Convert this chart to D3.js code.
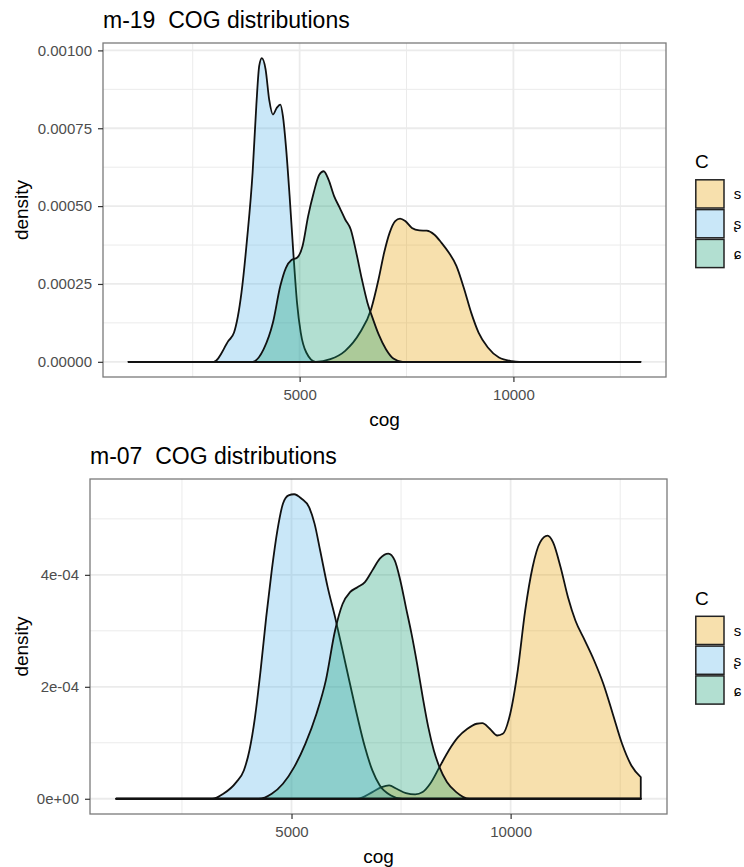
<!DOCTYPE html>
<html>
<head>
<meta charset="utf-8">
<script src="https://cdn.jsdelivr.net/npm/d3@7"></script>
<style>
  body { margin: 0; background: #fff; }
  svg { display: block; font-family: "Liberation Sans", Arial, Helvetica, sans-serif; }
</style>
</head>
<body>
<svg id="chart" width="744" height="867"></svg>
<script>
// Sibilant categories (legend order) and their fill colours
const categories = ["s", "ʂ", "ɕ"];
const fillColors = ["#E69F00", "#56B4E9", "#109a70"];

// Shared cog axis
const cogRange = [1000, 12970];
const cogMajor = [5000, 10000];
const cogMinor = [2500, 7500, 12500];

// m-19: density curves as [cog, density] pairs
const m19_s = [
  [1000, 0], [5373, 0], [5719, 0.0000085], [6066, 0.0000353], [6412, 0.000094],
  [6672, 0.000169], [6846, 0.000265], [6976, 0.00035], [7106, 0.000415], [7236, 0.000452],
  [7348, 0.00046], [7470, 0.000452], [7626, 0.00043], [7799, 0.000422], [7972, 0.000421],
  [8146, 0.000409], [8319, 0.000382], [8492, 0.00035], [8666, 0.000308], [8839, 0.000238],
  [9012, 0.000158], [9185, 0.000094], [9402, 0.000046], [9662, 0.0000139], [9965, 0.000002],
  [10139, 0], [12970, 0]
];
const m19_sh = [
  [1000, 0], [2990, 0], [3336, 0.0000673], [3466, 0.000094], [3640, 0.000222],
  [3770, 0.000393], [3900, 0.000607], [3986, 0.00082], [4055, 0.00095], [4116, 0.000975],
  [4203, 0.00094], [4290, 0.00084], [4376, 0.000794], [4463, 0.000815], [4549, 0.000826],
  [4610, 0.000788], [4680, 0.000692], [4766, 0.000532], [4853, 0.00035], [4939, 0.00019],
  [5026, 0.000094], [5156, 0.00003], [5373, 0], [12970, 0]
];
const m19_c = [
  [1000, 0], [3900, 0], [4159, 0.0000406], [4376, 0.000126], [4549, 0.000244],
  [4680, 0.000302], [4809, 0.000327], [4939, 0.000334], [5069, 0.000372], [5199, 0.000468],
  [5329, 0.000543], [5459, 0.000601], [5563, 0.000612], [5676, 0.000585], [5806, 0.000532],
  [5936, 0.000495], [6066, 0.000457], [6196, 0.000425], [6326, 0.00035], [6456, 0.000265],
  [6586, 0.00019], [6716, 0.000137], [6846, 0.0000887], [7019, 0.0000406], [7192, 0.0000107],
  [7409, 0], [12970, 0]
];

// m-07: density curves as [cog, density] pairs
const m07_s = [
  [1000, 0], [6505, 0], [6845, 0.0000119], [7058, 0.0000208], [7228, 0.0000238],
  [7398, 0.0000179], [7611, 0.0000101], [7823, 0.0000077], [7993, 0.0000119], [8163, 0.0000268],
  [8376, 0.0000565], [8588, 0.0000863], [8801, 0.00011], [9014, 0.000125], [9226, 0.000134],
  [9354, 0.000135], [9524, 0.000125], [9694, 0.000113], [9821, 0.000116], [9991, 0.000152],
  [10162, 0.000229], [10332, 0.000336], [10502, 0.000414], [10672, 0.000458], [10842, 0.00047],
  [10969, 0.000458], [11139, 0.000414], [11309, 0.00036], [11480, 0.000318], [11692, 0.000283],
  [11905, 0.000247], [12117, 0.000205], [12330, 0.000152], [12543, 0.0000982], [12755, 0.0000595],
  [12970, 0.0000387]
];
const m07_sh = [
  [1000, 0], [3189, 0], [3444, 0.0000089], [3741, 0.0000298], [3912, 0.0000506],
  [4039, 0.0000863], [4167, 0.000146], [4294, 0.000229], [4422, 0.000324], [4549, 0.000408],
  [4677, 0.000479], [4804, 0.000527], [4932, 0.000542], [5060, 0.000544], [5230, 0.000536],
  [5400, 0.000521], [5527, 0.000491], [5655, 0.000443], [5825, 0.000378], [5995, 0.000324],
  [6165, 0.000265], [6335, 0.000205], [6505, 0.000146], [6675, 0.0000923], [6845, 0.0000506],
  [7015, 0.0000238], [7270, 0.000006], [7526, 0], [12970, 0]
];
const m07_c = [
  [1000, 0], [4252, 0], [4549, 0.0000089], [4804, 0.0000268], [5060, 0.0000565],
  [5315, 0.0000982], [5570, 0.000152], [5782, 0.000211], [5995, 0.000301], [6165, 0.000348],
  [6335, 0.000369], [6505, 0.000378], [6675, 0.000387], [6845, 0.000408], [7015, 0.000429],
  [7211, 0.000438], [7355, 0.000426], [7483, 0.00039], [7611, 0.000342], [7738, 0.000295],
  [7866, 0.000241], [7993, 0.000182], [8121, 0.000128], [8248, 0.0000863], [8376, 0.0000565],
  [8546, 0.0000298], [8759, 0.0000119], [9056, 0], [12970, 0]
];

// Density axis breaks and labels per panel
const m19_yMajor = [0, 0.00025, 0.0005, 0.00075, 0.001];
const m19_yMinor = [0.000125, 0.000375, 0.000625, 0.000875];
const m19_yLabels = ["0.00000", "0.00025", "0.00050", "0.00075", "0.00100"];
const m07_yMajor = [0, 0.0002, 0.0004];
const m07_yMinor = [0.0001, 0.0003, 0.0005];
const m07_yLabels = ["0e+00", "2e-04", "4e-04"];

const svg = d3.select("#chart");

function panel(opts) {
  const { title, series, yMajor, yMinor, yLabels, box } = opts;
  const g = svg.append("g");

  // scales with 5% expansion on both ends
  const xPad = (cogRange[1] - cogRange[0]) * 0.05;
  const x = d3.scaleLinear()
    .domain([cogRange[0] - xPad, cogRange[1] + xPad])
    .range([box.left, box.right]);
  const yMax = d3.max(series, s => d3.max(s, d => d[1]));
  const yPad = yMax * 0.05;
  const y = d3.scaleLinear()
    .domain([-yPad, yMax + yPad])
    .range([box.bottom, box.top]);

  // background
  g.append("rect")
    .attr("x", box.left).attr("y", box.top)
    .attr("width", box.right - box.left).attr("height", box.bottom - box.top)
    .attr("fill", "#fff");

  // grid: minor then major
  const grid = g.append("g").attr("stroke", "#ebebeb").attr("fill", "none");
  grid.selectAll(".vxmin").data(cogMinor).join("line")
    .attr("x1", d => x(d)).attr("x2", d => x(d))
    .attr("y1", box.top).attr("y2", box.bottom).attr("stroke-width", 1);
  grid.selectAll(".hymin").data(yMinor).join("line")
    .attr("x1", box.left).attr("x2", box.right)
    .attr("y1", d => y(d)).attr("y2", d => y(d)).attr("stroke-width", 1);
  grid.selectAll(".vxmaj").data(cogMajor).join("line")
    .attr("x1", d => x(d)).attr("x2", d => x(d))
    .attr("y1", box.top).attr("y2", box.bottom).attr("stroke-width", 1.8);
  grid.selectAll(".hymaj").data(yMajor).join("line")
    .attr("x1", box.left).attr("x2", box.right)
    .attr("y1", d => y(d)).attr("y2", d => y(d)).attr("stroke-width", 1.8);

  // density areas, one group at a time (fill then outline)
  const area = d3.area()
    .x(d => x(d[0]))
    .y0(y(0))
    .y1(d => y(d[1]))
    .curve(d3.curveMonotoneX);
  series.forEach((s, i) => {
    g.append("path")
      .attr("d", area(s) + "Z")
      .attr("fill", fillColors[i])
      .attr("fill-opacity", 0.32)
      .attr("stroke", "#111")
      .attr("stroke-width", 1.8)
      .attr("stroke-linejoin", "round");
  });

  // panel border
  g.append("rect")
    .attr("x", box.left).attr("y", box.top)
    .attr("width", box.right - box.left).attr("height", box.bottom - box.top)
    .attr("fill", "none").attr("stroke", "#7a7a7a").attr("stroke-width", 1.3);

  // x axis
  const xAxis = d3.axisBottom(x).tickValues(cogMajor).tickFormat(d3.format("d"))
    .tickSize(5).tickPadding(7);
  const gx = g.append("g").attr("transform", `translate(0,${box.bottom})`).call(xAxis);
  gx.select(".domain").remove();
  gx.selectAll(".tick line").attr("stroke", "#333").attr("stroke-width", 1.2);
  gx.selectAll(".tick text").attr("fill", "#4d4d4d").attr("font-size", 15)
    .attr("font-family", null);

  // y axis
  const yAxis = d3.axisLeft(y).tickValues(yMajor).tickFormat((d, i) => yLabels[i])
    .tickSize(5).tickPadding(6);
  const gy = g.append("g").attr("transform", `translate(${box.left},0)`).call(yAxis);
  gy.select(".domain").remove();
  gy.selectAll(".tick line").attr("stroke", "#333").attr("stroke-width", 1.2);
  gy.selectAll(".tick text").attr("fill", "#4d4d4d").attr("font-size", 15)
    .attr("font-family", null);

  // axis titles
  const cx = (box.left + box.right) / 2;
  const cy = (box.top + box.bottom) / 2;
  g.append("text").attr("x", cx).attr("y", box.bottom + 49)
    .attr("text-anchor", "middle").attr("font-size", 19).attr("fill", "#000").text("cog");
  g.append("text")
    .attr("transform", `translate(21,${cy}) rotate(-90)`)
    .attr("text-anchor", "middle").attr("dominant-baseline", "central")
    .attr("font-size", 19).attr("fill", "#000").text("density");

  // title (keeps the double space)
  g.append("text").attr("x", box.left).attr("y", box.top - 15)
    .attr("xml:space", "preserve").style("white-space", "pre")
    .attr("font-size", 23).attr("fill", "#000").text(title);

  // legend
  const lg = g.append("g");
  const keyX = 695, key = 29.8;
  const keysTop = cy - 31;
  lg.append("text").attr("x", keyX).attr("y", cy - 48.5)
    .attr("dominant-baseline", "central").attr("font-size", 19).attr("fill", "#000").text("C");
  categories.forEach((c, i) => {
    const ky = keysTop + i * key;
    lg.append("rect")
      .attr("x", keyX + 0.8).attr("y", ky + 0.8)
      .attr("width", key - 1.6).attr("height", key - 1.6)
      .attr("fill", fillColors[i]).attr("fill-opacity", 0.32)
      .attr("stroke", "#222").attr("stroke-width", 1.5);
    lg.append("text").attr("x", keyX + key + 9).attr("y", ky + key / 2)
      .attr("dominant-baseline", "central").attr("font-size", 15).attr("fill", "#000").text(c);
  });
}

panel({
  title: "m-19  COG distributions",
  series: [m19_s, m19_sh, m19_c],
  yMajor: m19_yMajor, yMinor: m19_yMinor, yLabels: m19_yLabels,
  box: { left: 103, right: 666, top: 43, bottom: 377 }
});

panel({
  title: "m-07  COG distributions",
  series: [m07_s, m07_sh, m07_c],
  yMajor: m07_yMajor, yMinor: m07_yMinor, yLabels: m07_yLabels,
  box: { left: 90, right: 667, top: 479, bottom: 814 }
});
</script>
</body>
</html>
